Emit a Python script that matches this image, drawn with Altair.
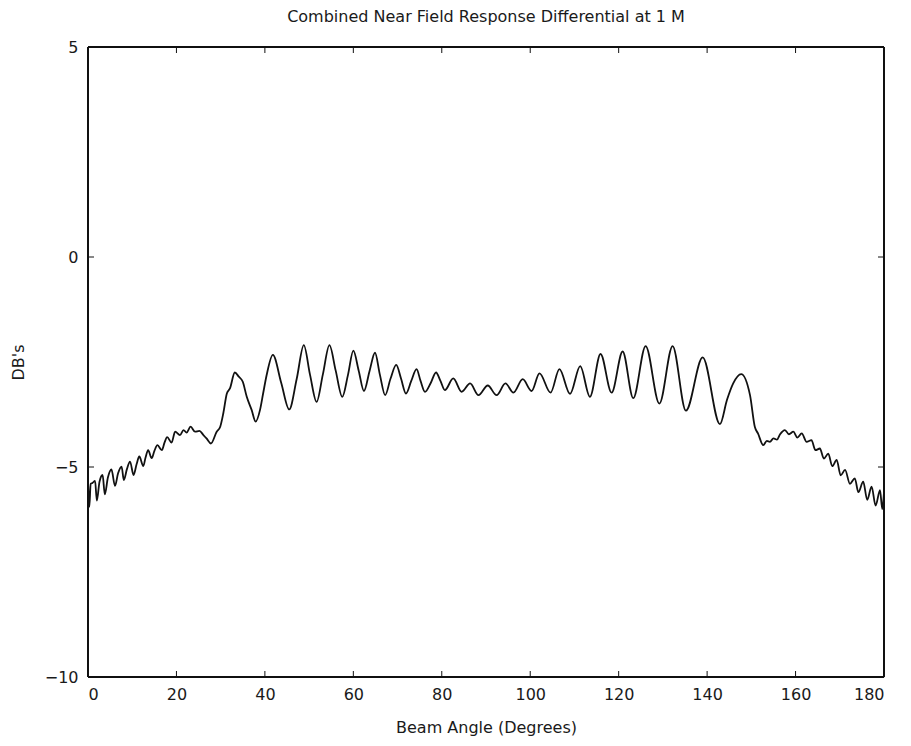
import altair as alt
import pandas as pd

angle = [
    0.0, 0.3, 0.6, 1.0, 1.6, 2.0, 2.6, 3.3, 3.8, 4.5, 5.3, 6.1, 6.8, 7.6, 8.1, 8.8,
    9.5, 10.3, 11.0, 11.6, 12.5, 13.0, 13.6, 14.4, 15.0, 15.7, 16.7, 17.3, 17.9,
    18.9, 19.7, 20.8, 21.6, 22.3, 23.2, 24.2, 25.2, 26.1, 26.8, 27.8, 29.1, 29.9,
    30.6, 31.4, 32.1, 33.2, 34.1, 35.0, 35.9, 37.0, 37.9, 38.9, 39.6, 40.4, 41.8,
    43.7, 45.5, 47.2, 48.8, 50.2, 51.7, 53.1, 54.6, 56.0, 57.5, 58.8, 60.0, 61.2,
    62.4, 63.7, 64.9, 66.0, 67.2, 68.4, 69.7, 70.8, 71.9, 73.1, 74.3, 75.2, 76.2,
    77.5, 78.7, 79.7, 80.7, 82.6, 84.5, 86.4, 88.3, 90.4, 92.4, 94.4, 96.2, 98.3,
    100.3, 102.1, 104.6, 106.6, 109.0, 111.3, 113.5, 115.9, 118.4, 120.9, 123.3,
    126.1, 129.2, 132.2, 135.2, 139.0, 142.9, 144.5, 145.9, 147.7, 149.7, 150.8,
    151.5, 152.7, 153.5, 154.2, 155.0, 155.8, 156.5, 157.6, 158.5, 159.5, 160.4,
    161.4, 162.5, 163.6, 164.5, 165.5, 166.4, 167.4, 168.3, 169.3, 170.2, 171.2,
    172.3, 173.4, 174.2, 175.3, 176.2, 177.2, 178.1, 179.1, 179.6, 180.0,
]
db = [
    -5.35, -5.95, -5.40, -5.38, -5.33, -5.80, -5.35, -5.19, -5.65, -5.25, -5.06,
    -5.45, -5.15, -4.99, -5.31, -5.05, -4.87, -5.19, -4.93, -4.75, -4.98, -4.78,
    -4.60, -4.79, -4.62, -4.48, -4.60, -4.42, -4.29, -4.42, -4.16, -4.24, -4.12,
    -4.18, -4.04, -4.16, -4.14, -4.24, -4.32, -4.44, -4.16, -4.04, -3.72, -3.25,
    -3.13, -2.75, -2.85, -2.97, -3.33, -3.64, -3.92, -3.64, -3.25, -2.81, -2.33,
    -3.00, -3.63, -2.90, -2.10, -2.80, -3.45, -2.80, -2.10, -2.70, -3.33, -2.80,
    -2.23, -2.70, -3.19, -2.70, -2.28, -2.80, -3.29, -2.90, -2.57, -2.90, -3.25,
    -2.95, -2.67, -2.95, -3.21, -3.00, -2.75, -2.95, -3.17, -2.89, -3.21, -3.01,
    -3.29, -3.06, -3.29, -3.01, -3.23, -2.91, -3.19, -2.77, -3.23, -2.67, -3.26,
    -2.60, -3.33, -2.31, -3.23, -2.25, -3.36, -2.12, -3.49, -2.12, -3.66, -2.39,
    -3.98, -3.40, -3.01, -2.79, -3.29, -4.05, -4.20, -4.48, -4.38, -4.40, -4.32,
    -4.35, -4.22, -4.12, -4.22, -4.16, -4.30, -4.20, -4.40, -4.36, -4.60, -4.56,
    -4.80, -4.68, -4.98, -4.83, -5.20, -5.07, -5.40, -5.27, -5.60, -5.35, -5.78,
    -5.47, -5.92, -5.55, -6.00, -5.60,
]

x_ticks = [20, 40, 60, 80, 100, 120, 140, 160]
y_ticks = [0, -5]

W, H = 796, 630
df = pd.DataFrame({"angle": angle, "db": db})
xt = pd.DataFrame({"t": x_ticks})
yt = pd.DataFrame({"t": y_ticks})

xscale = alt.Scale(domain=[0, 180], nice=False, zero=False)
yscale = alt.Scale(domain=[-10, 5], nice=False, zero=False)

font = "DejaVu Sans"
ink = "#1a1a1a"

line = alt.Chart(df).mark_line(color="#111111", strokeWidth=1.8, clip=True,
                               interpolate="monotone").encode(
    x=alt.X("angle:Q", scale=xscale,
            axis=alt.Axis(values=[0, 20, 40, 60, 80, 100, 120, 140, 160, 180],
                          title="Beam Angle (Degrees)", tickSize=0, labelPadding=9,
                          domain=False, grid=False, labelFontSize=16,
                          titleFontSize=16, titleFontWeight="normal",
                          titlePadding=17, labelFont=font, titleFont=font,
                          labelColor=ink, titleColor=ink)),
    y=alt.Y("db:Q", scale=yscale,
            axis=alt.Axis(values=[5, 0, -5, -10], title="DB's", tickSize=0,
                          labelPadding=10, domain=False, grid=False,
                          labelFontSize=16, titleFontSize=16,
                          titleFontWeight="normal", titlePadding=18,
                          labelFont=font, titleFont=font,
                          labelColor=ink, titleColor=ink)),
)

tb = alt.Chart(xt).mark_rule(color="#111", strokeWidth=1).encode(
    x=alt.X("t:Q", scale=xscale), y=alt.value(H), y2=alt.value(H - 6))
tt = alt.Chart(xt).mark_rule(color="#111", strokeWidth=1).encode(
    x=alt.X("t:Q", scale=xscale), y=alt.value(0), y2=alt.value(6))
tl = alt.Chart(yt).mark_rule(color="#111", strokeWidth=1).encode(
    y=alt.Y("t:Q", scale=yscale), x=alt.value(0), x2=alt.value(6))
tr = alt.Chart(yt).mark_rule(color="#111", strokeWidth=1).encode(
    y=alt.Y("t:Q", scale=yscale), x=alt.value(W), x2=alt.value(W - 6))

frame_top = alt.Chart(xt).mark_rule(color="#111", strokeWidth=1.3).encode(
    x=alt.value(0), x2=alt.value(W), y=alt.value(0))
frame_bot = alt.Chart(xt).mark_rule(color="#111", strokeWidth=1.3).encode(
    x=alt.value(0), x2=alt.value(W), y=alt.value(H))
frame_l = alt.Chart(xt).mark_rule(color="#111", strokeWidth=1.3).encode(
    y=alt.value(0), y2=alt.value(H), x=alt.value(0))
frame_r = alt.Chart(xt).mark_rule(color="#111", strokeWidth=1.3).encode(
    y=alt.value(0), y2=alt.value(H), x=alt.value(W))

chart = alt.layer(line, tb, tt, tl, tr, frame_top, frame_bot, frame_l, frame_r).properties(
    width=W, height=H,
    title=alt.Title("Combined Near Field Response Differential at 1 M",
                    fontSize=16, fontWeight="normal", font=font, color=ink,
                    offset=14),
    autosize=alt.AutoSizeParams(type="none"),
    padding={"left": 88, "top": 47, "right": 27, "bottom": 69},
).configure_view(stroke=None).configure(background="white")

chart.save("out.html", embed_options={"renderer": "svg", "actions": False})
